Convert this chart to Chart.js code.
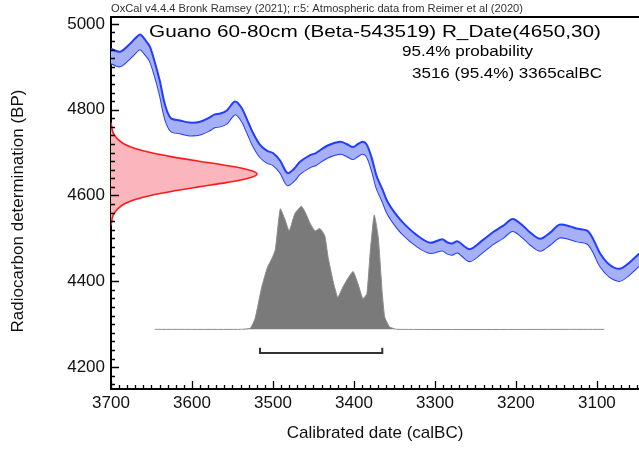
<!DOCTYPE html>
<html><head><meta charset="utf-8">
<script src="https://cdn.jsdelivr.net/npm/chart.js@4.4.1/dist/chart.umd.min.js"></script>
<style>html,body{margin:0;padding:0;background:#fff;}#wrap{width:639px;height:449px;}</style>
</head><body><div id="wrap"><canvas id="c" width="639" height="449"></canvas></div>
<script>
// ---- data ----
const calYears = [3700,3689,3679,3669,3664,3658,3652,3646,3640,3633,3626,3615,3603,3590,3578,3572,3565,3557,3547,3539,3532,3525,3516,3507,3500,3491,3482,3473,3467,3454,3447,3433,3417,3409,3401,3395,3389,3384,3378,3372,3365,3359,3352,3340,3322,3306,3291,3285,3279,3272,3257,3241,3228,3216,3204,3191,3182,3170,3158,3146,3133,3125,3112,3105,3096,3084,3072,3062,3052,3048];
const calUpper = [4942,4935,4949,4968,4975,4963,4947,4911,4869,4809,4780,4775,4770,4772,4782,4789,4791,4798,4819,4805,4777,4747,4718,4704,4699,4681,4652,4664,4678,4694,4699,4716,4725,4720,4713,4720,4725,4718,4687,4645,4615,4587,4566,4538,4507,4490,4498,4491,4488,4493,4475,4496,4515,4529,4545,4529,4513,4499,4513,4532,4528,4523,4518,4500,4465,4438,4429,4440,4457,4464];
const calLower = [4908,4901,4915,4934,4941,4929,4913,4879,4837,4777,4750,4745,4740,4742,4752,4759,4761,4768,4789,4775,4747,4717,4690,4676,4671,4653,4624,4636,4650,4666,4671,4688,4697,4692,4685,4692,4697,4690,4659,4617,4587,4559,4538,4510,4481,4466,4472,4465,4462,4467,4447,4468,4487,4501,4517,4501,4485,4471,4485,4502,4498,4493,4488,4470,4435,4410,4401,4412,4429,4436];

const measBP      = [4770,4760,4750,4740,4730,4720,4710,4700,4690,4680,4670,4660,4650,4640,4630,4620,4610,4600,4590,4580,4570,4560,4550,4540,4530];
const measDensity = [0,0.005,0.01,0.025,0.05,0.09,0.16,0.27,0.42,0.6,0.79,0.94,1.0,0.94,0.79,0.6,0.42,0.27,0.16,0.09,0.05,0.025,0.01,0.005,0];

const probYears  = [3646,3540,3528,3522,3514,3507,3501,3497,3491,3485,3480,3473,3465,3460,3454,3448,3442,3436,3432,3426,3420,3414,3407,3401,3395,3389,3384,3380,3375,3370,3365,3362,3356,3347,3091];
const probValues = [0,0,0.01,0.09,0.34,0.50,0.58,0.65,0.98,0.89,0.80,0.94,1.00,0.95,0.86,0.80,0.82,0.76,0.59,0.40,0.26,0.34,0.42,0.47,0.37,0.25,0.29,0.62,0.93,0.75,0.29,0.10,0.02,0,0];

const range95 = [3516, 3365];
const xTickLabels = [3700,3600,3500,3400,3300,3200,3100];
const yTickLabels = [4200,4400,4600,4800,5000];

const headerText = 'OxCal v4.4.4 Bronk Ramsey (2021); r:5: Atmospheric data from Reimer et al (2020)';
const titleText = 'Guano 60-80cm (Beta-543519) R_Date(4650,30)';
const probText = '95.4% probability';
const rangeText = '3516 (95.4%) 3365calBC';
const yTitle = 'Radiocarbon determination (BP)';

// ---- chart ----
const FONT = "'Liberation Sans', Arial, sans-serif";
const BLUE = 'rgb(35,60,255)';

function stretchedText(ctx, text, x, y, size, width, color) {
  ctx.save();
  ctx.font = size + 'px ' + FONT;
  ctx.fillStyle = color;
  ctx.textBaseline = 'alphabetic';
  ctx.textAlign = 'left';
  const w = ctx.measureText(text).width;
  ctx.translate(x, y);
  ctx.scale(width / w, 1);
  ctx.fillText(text, 0, 0);
  ctx.restore();
}

const oxcalPlugin = {
  id: 'oxcal',
  afterDraw(chart) {
    const ctx = chart.ctx;
    const a = chart.chartArea;
    const xs = chart.scales.x, ys = chart.scales.y;
    ctx.save();
    ctx.strokeStyle = '#000';
    ctx.lineWidth = 2;
    ctx.beginPath();
    ctx.moveTo(a.left - 1, a.top);
    ctx.lineTo(a.right, a.top);
    ctx.stroke();
    ctx.lineWidth = 1.3;
    ctx.beginPath();
    for (let v = 3050; v <= 3700; v += 10) {
      const px = Math.round(xs.getPixelForValue(v)) + 0.5;
      const len = (v % 100 === 0) ? 8 : 4;
      ctx.moveTo(px, a.bottom);
      ctx.lineTo(px, a.bottom - len);
    }
    for (let v = 4160; v <= 5000; v += 20) {
      const py = Math.round(ys.getPixelForValue(v)) + 0.5;
      const len = (v % 200 === 0) ? 8 : 4;
      ctx.moveTo(a.left, py);
      ctx.lineTo(a.left + len, py);
    }
    ctx.stroke();
    // y axis title
    ctx.translate(18, 211);
    ctx.rotate(-Math.PI / 2);
    ctx.font = '17px ' + FONT;
    ctx.fillStyle = '#111';
    ctx.textAlign = 'center';
    ctx.textBaseline = 'middle';
    ctx.fillText(yTitle, 0, 0);
    ctx.restore();
    stretchedText(ctx, headerText, 111, 12, 11, 412, '#333');
    stretchedText(ctx, titleText, 149, 37, 17, 452, '#000');
    stretchedText(ctx, probText, 402, 56, 14, 131, '#000');
    stretchedText(ctx, rangeText, 412, 78, 14, 190, '#000');
  }
};

const pts = (xs, ys) => xs.map((x, i) => ({x: x, y: ys[i]}));

new Chart(document.getElementById('c'), {
  type: 'scatter',
  data: {
    datasets: [
      { data: pts(calYears, calUpper), showLine: true, borderColor: BLUE, borderWidth: 2, pointRadius: 0,
        tension: 0.3, fill: '+1', backgroundColor: 'rgb(166,176,246)' },
      { data: pts(calYears, calLower), showLine: true, borderColor: BLUE, borderWidth: 2, pointRadius: 0,
        tension: 0.3, fill: false },
      { data: measBP.map((y, i) => ({x: measDensity[i], y: y})), xAxisID: 'xr', yAxisID: 'y',
        showLine: true, borderColor: 'rgb(255,25,25)', borderWidth: 1.6, pointRadius: 0, tension: 0.3,
        fill: 'shape', backgroundColor: 'rgb(250,182,188)' },
      { data: pts(probYears, probValues), yAxisID: 'yp', showLine: true, borderColor: 'rgb(140,140,140)',
        borderWidth: 1, pointRadius: 0, tension: 0.15, fill: 'origin', backgroundColor: 'rgb(122,122,122)' },
      { data: [{x: range95[0], y: -0.149}, {x: range95[0], y: -0.193}, {x: range95[1], y: -0.193}, {x: range95[1], y: -0.149}],
        yAxisID: 'yp', showLine: true, borderColor: '#333', borderWidth: 2, pointRadius: 0, fill: false }
    ]
  },
  options: {
    responsive: false,
    animation: false,
    devicePixelRatio: 1,
    layout: { padding: { top: 17, right: 0, left: 36, bottom: 0 } },
    plugins: { legend: { display: false }, tooltip: { enabled: false } },
    scales: {
      x: {
        type: 'linear', position: 'bottom', reverse: true, min: 3048, max: 3700,
        afterBuildTicks: s => { s.ticks = xTickLabels.map(v => ({value: v})); },
        afterFit: s => { s.height = 60; },
        ticks: { font: { family: FONT, size: 17 }, color: '#111', padding: 4, maxRotation: 0, autoSkip: false,
                 callback: v => String(v) },
        grid: { display: false, drawTicks: false },
        border: { display: true, color: '#000', width: 2 },
        title: { display: true, text: 'Calibrated date (calBC)', font: { family: FONT, size: 17 }, color: '#111',
                 padding: { top: 0, bottom: 5 } }
      },
      y: {
        type: 'linear', position: 'left', min: 4149, max: 5016,
        afterBuildTicks: s => { s.ticks = yTickLabels.map(v => ({value: v})); },
        afterFit: s => { s.width = 75; },
        ticks: { font: { family: FONT, size: 17 }, color: '#111', padding: 6, autoSkip: false,
                 callback: v => String(v) },
        grid: { display: false, drawTicks: false },
        border: { display: true, color: '#000', width: 2 },
        title: { display: false }
      },
      xr: { type: 'linear', display: false, min: 0, max: 3.616 },
      yp: { type: 'linear', display: false, min: -0.485, max: 2.539 }
    }
  },
  plugins: [oxcalPlugin]
});
</script>
</body></html>
